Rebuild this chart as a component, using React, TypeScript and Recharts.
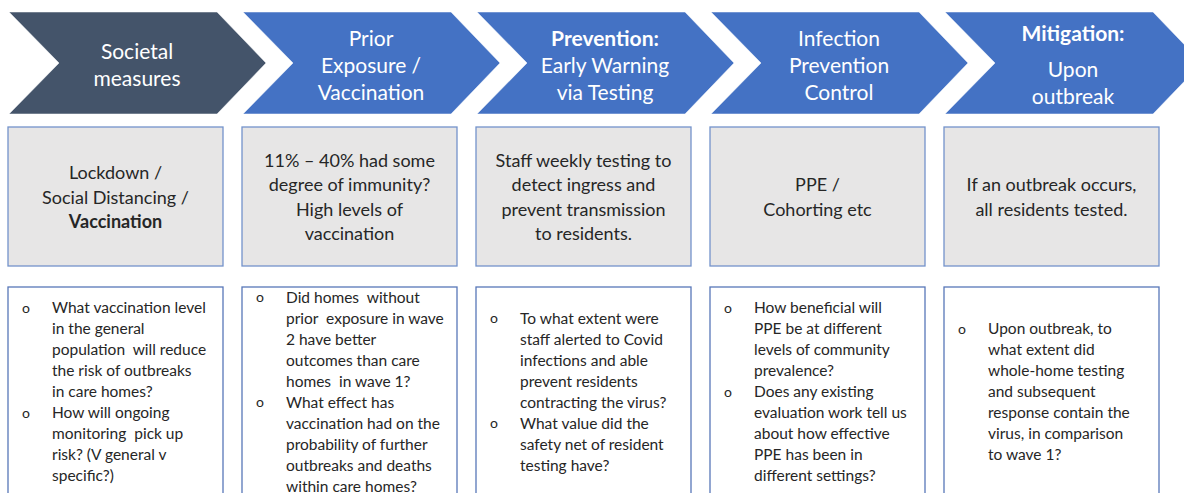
import { BarChart, Bar, XAxis, YAxis } from 'recharts'

// five stages of the pathway, left to right
const stageLines: string[][] = [
  ['Societal', 'measures'],
  ['Prior', 'Exposure /', 'Vaccination'],
  ['**Prevention:', 'Early Warning', 'via Testing'],
  ['Infection', 'Prevention', 'Control'],
  ['**Mitigation:', '', 'Upon', 'outbreak'],
]

const actionLines: string[][] = [
  ['Lockdown /', 'Social Distancing /', '**Vaccination'],
  ['11% – 40% had some', 'degree of immunity?', 'High levels of', 'vaccination'],
  ['Staff weekly testing to', 'detect ingress and', 'prevent transmission', 'to residents.'],
  ['PPE /', 'Cohorting etc'],
  ['If an outbreak occurs,', 'all residents tested.'],
]

const questionBullets: string[][][] = [
  [
    ['What vaccination level', 'in the general', 'population  will reduce', 'the risk of outbreaks', 'in care homes?'],
    ['How will ongoing', 'monitoring  pick up', 'risk? (V general v', 'specific?)'],
  ],
  [
    ['Did homes  without', 'prior  exposure in wave', '2 have better', 'outcomes than care', 'homes  in wave 1?'],
    ['What effect has', 'vaccination had on the', 'probability of further', 'outbreaks and deaths', 'within care homes?'],
  ],
  [
    ['To what extent were', 'staff alerted to Covid', 'infections and able', 'prevent residents', 'contracting the virus?'],
    ['What value did the', 'safety net of resident', 'testing have?'],
  ],
  [
    ['How beneficial will', 'PPE be at different', 'levels of community', 'prevalence?'],
    ['Does any existing', 'evaluation work tell us', 'about how effective', 'PPE has been in', 'different settings?'],
  ],
  [
    ['Upon outbreak, to', 'what extent did', 'whole-home testing', 'and subsequent', 'response contain the', 'virus, in comparison', 'to wave 1?'],
  ],
]

const data = stageLines.map((lines, i) => ({
  key: `stage${i}`,
  slot: 1,
  stage: lines,
  action: actionLines[i],
  questions: questionBullets[i],
}))

const FONT = 'Lato, "Open Sans", sans-serif'
const TEXT = '#262626'

const isBold = (s: string) => s.startsWith('**')
const clean = (s: string) => s.replace(/^\*\*/, '')

function StageColumn(props: any) {
  const { x, y, payload, index } = props
  const boxW = 215

  // chevron
  const cl = x + 1
  const top = y + 12
  const bot = y + 114
  const mid = (top + bot) / 2
  const chevron = [
    [cl, top], [cl + 208, top], [cl + 257, mid], [cl + 208, bot], [cl, bot], [cl + 50, mid],
  ].map(p => p.join(',')).join(' ')
  const chevFill = index === 0 ? '#44546A' : '#4472C4'

  // stage title lines, empty string = small gap
  const ys: number[] = []
  let acc = 0
  payload.stage.forEach((s: string) => {
    ys.push(acc)
    acc += s === '' ? 9 : 27
  })
  const drawn = payload.stage.map((s: string, i: number) => ({ s, yy: ys[i] })).filter((d: any) => d.s !== '')
  const span = drawn[drawn.length - 1].yy - drawn[0].yy
  const titleTop = mid + 1 - span / 2 - drawn[0].yy

  // action box
  const aTop = y + 127
  const aBot = y + 266
  const aMid = (aTop + aBot) / 2
  const aStep = 24.5
  const aLines: string[] = payload.action
  const aFirst = aMid - ((aLines.length - 1) * aStep) / 2

  // question box
  const qTop = y + 287
  const qBot = y + 499
  const qMid = (qTop + qBot) / 2 - 2
  const qStep = 21
  const flat: { s: string; first: boolean }[] = []
  payload.questions.forEach((b: string[]) => b.forEach((s, i) => flat.push({ s, first: i === 0 })))
  const qFirst = qMid - ((flat.length - 1) * qStep) / 2

  return (
    <g>
      <polygon points={chevron} fill={chevFill} stroke="#ffffff" strokeOpacity={0.5} strokeWidth={1} />
      {drawn.map((d: any, i: number) => (
        <text key={i} x={cl + 128} y={titleTop + d.yy} textAnchor="middle" dominantBaseline="central"
          fill="#ffffff" fontFamily={FONT} fontSize={21} fontWeight={isBold(d.s) ? 700 : 400}>
          {clean(d.s)}
        </text>
      ))}

      <rect x={x} y={aTop} width={boxW} height={aBot - aTop} fill="#E7E6E6" stroke="#7393CB" strokeWidth={1.3} />
      {aLines.map((s, i) => (
        <text key={i} x={x + boxW / 2} y={aFirst + i * aStep} textAnchor="middle" dominantBaseline="central"
          fill={TEXT} fontFamily={FONT} fontSize={18} fontWeight={isBold(s) ? 700 : 400}>
          {clean(s)}
        </text>
      ))}

      <rect x={x} y={qTop} width={boxW} height={qBot - qTop} fill="#ffffff" stroke="#5877B8" strokeWidth={1.3} />
      {flat.map((d, i) => (
        <g key={i}>
          {d.first && (
            <text x={x + 18} y={qFirst + i * qStep} textAnchor="middle" dominantBaseline="central"
              fill={TEXT} fontFamily={FONT} fontSize={14}>o</text>
          )}
          <text x={x + 44} y={qFirst + i * qStep} dominantBaseline="central" fill={TEXT}
            fontFamily={FONT} fontSize={15.5} style={{ whiteSpace: 'pre' }}>
            {d.s}
          </text>
        </g>
      ))}
    </g>
  )
}

export default function App() {
  return (
    <div style={{ position: 'absolute', left: 0, top: 0, width: 1184, height: 493, background: '#ffffff' }}>
      <BarChart width={1184} height={493} data={data} margin={{ top: 0, right: 6, bottom: 0, left: 8 }} barCategoryGap={0}>
        <XAxis dataKey="key" hide />
        <YAxis hide domain={[0, 1]} />
        <Bar dataKey="slot" isAnimationActive={false} shape={StageColumn} />
      </BarChart>
    </div>
  )
}
